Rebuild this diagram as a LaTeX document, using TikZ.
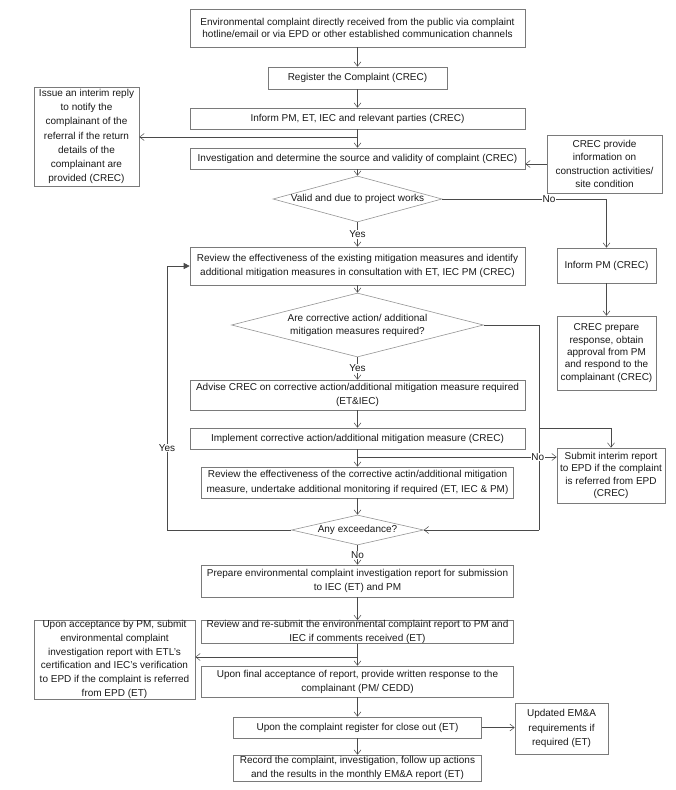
\documentclass[tikz,border=0pt]{standalone}
\usepackage{fontspec}
\setmainfont{Liberation Sans}
\usetikzlibrary{arrows.meta,shapes.geometric}
\definecolor{boxline}{HTML}{7A7A7A}
\definecolor{conline}{HTML}{4A4A4A}
\definecolor{dialine}{HTML}{959595}
\definecolor{txt}{HTML}{1A1A1A}
\tikzset{
  every node/.style={font=\fontsize{10}{14}\selectfont, text=txt},
  ls/.style={font=\fontsize{10}{#1}\selectfont},
  box/.style={draw=boxline, line width=0.6pt, rectangle, inner sep=0pt, align=center},
  dia/.style={draw=dialine, line width=0.6pt, diamond, inner sep=0pt, shape aspect=1},
  con/.style={draw=conline, line width=0.6pt},
  arr/.style={con, -{Straight Barb[length=4.5pt,width=7pt,line width=0.5pt]}},
  farr/.style={con, -{Triangle[length=6pt,width=6pt]}},
  lab/.style={fill=white, inner sep=0.6pt}
}
\begin{document}
\begin{tikzpicture}[x=1pt,y=-1pt]
\useasboundingbox[fill=white] (0,0) rectangle (676,790);
% main column
\node[box, ls=12, minimum width=335, minimum height=38] (b1) at (357.5,28)
  {Environmental complaint directly received from the public via complaint\\hotline/email or via EPD or other established communication channels};
\node[box, minimum width=179, minimum height=22] (b2) at (357.5,78) {Register the Complaint (CREC)};
\node[box, minimum width=335, minimum height=21] (b3) at (357.5,118.5) {Inform PM, ET, IEC and relevant parties (CREC)};
\node[box, minimum width=335, minimum height=21] (b4) at (357.5,158.5) {Investigation and determine the source and validity of complaint (CREC)};
\node[dia, minimum width=169, minimum height=46] (d1) at (357.5,199) {};
\node (d1t) at (357.5,199) {Valid and due to project works};
\node[box, ls=14.5, minimum width=335, minimum height=38] (b5) at (357.5,266)
  {Review the effectiveness of the existing mitigation measures and identify\\additional mitigation measures in consultation with ET, IEC PM (CREC)};
\node[dia, minimum width=252, minimum height=64] (d2) at (357.5,325) {};
\node[align=center, ls=13] (d2t) at (357.5,325) {Are corrective action/ additional\\mitigation measures required?};
\node[box, ls=13.3, minimum width=335, minimum height=30] (b6) at (357.5,395)
  {Advise CREC on corrective action/additional mitigation measure required\\(ET\&IEC)};
\node[box, minimum width=335, minimum height=21] (b7) at (357.5,438.5) {Implement corrective action/additional mitigation measure (CREC)};
\node[box, ls=14.5, minimum width=312, minimum height=31] (b8) at (357.5,482.5)
  {Review the effectiveness of the corrective actin/additional mitigation\\measure, undertake additional monitoring if required (ET, IEC \& PM)};
\node[dia, minimum width=132, minimum height=30] (d3) at (357.5,530) {};
\node (d3t) at (357.5,530) {Any exceedance?};
\node[box, ls=14.5, minimum width=312, minimum height=32] (b9) at (357.5,581)
  {Prepare environmental complaint investigation report for submission\\to IEC (ET) and PM};
\node[box, minimum width=312, minimum height=23] (b10) at (357.5,632)
  {Review and re-submit the environmental complaint report to PM and\\IEC if comments received (ET)};
\node[box, minimum width=312, minimum height=31] (b11) at (357.5,681.5)
  {Upon final acceptance of report, provide written response to the\\complainant (PM/ CEDD)};
\node[box, minimum width=248, minimum height=21] (b12) at (357.5,727.5) {Upon the complaint register for close out (ET)};
\node[box, minimum width=248, minimum height=26] (b13) at (357.5,768)
  {Record the complaint, investigation, follow up actions\\and the results in the monthly EM\&A report (ET)};
% side boxes
\node[box, ls=14.2, minimum width=105, minimum height=99] (l1) at (86.5,136.5)
  {Issue an interim reply\\to notify the\\complainant of the\\referral if the return\\details of the\\complainant are\\provided (CREC)};
\node[box, ls=13.5, minimum width=115, minimum height=58] (r1) at (604.5,164)
  {CREC provide\\information on\\construction activities/\\site condition};
\node[box, minimum width=99, minimum height=35] (pm) at (606.5,265.5) {Inform PM (CREC)};
\node[box, ls=12.3, minimum width=99, minimum height=74] (cp) at (606.5,353)
  {CREC prepare\\response, obtain\\approval from PM\\and respond to the\\complainant (CREC)};
\node[box, ls=12.2, minimum width=108, minimum height=55] (sb) at (611,475.5)
  {Submit interim report\\to EPD if the complaint\\is referred from EPD\\(CREC)};
\node[box, ls=13.7, minimum width=161, minimum height=79] (l2) at (114.5,659.5)
  {Upon acceptance by PM, submit\\environmental complaint\\investigation report with ETL’s\\certification and IEC’s verification\\to EPD if the complaint is referred\\from EPD (ET)};
\node[box, ls=14.5, minimum width=93, minimum height=51] (up) at (561.5,728.5)
  {Updated EM\&A\\requirements if\\required (ET)};
% coordinates
\coordinate (j1) at (357.5,137);
\coordinate (fb) at (167,266);
\coordinate (c2) at (539,325);
\coordinate (bb) at (539,428);
\coordinate (j3) at (357.5,457);
\coordinate (j4) at (357.5,657);
% connectors main
\draw[arr] (b1) -- (b2);
\draw[arr] (b2) -- (b3);
\draw[arr] (b3) -- (b4);
\draw[arr] (b4) -- (d1);
\draw[arr] (d1) -- node[lab]{Yes} (b5);
\draw[arr] (b5) -- (d2);
\draw[arr] (d2) -- node[lab]{Yes} (b6);
\draw[arr] (b6) -- (b7);
\draw[arr] (b7) -- (b8);
\draw[arr] (b8) -- (d3);
\draw[arr] (d3) -- node[lab]{No} (b9);
\draw[arr] (b9) -- (b10);
\draw[arr] (b10) -- (b11);
\draw[arr] (b11) -- (b12);
\draw[arr] (b12) -- (b13);
% side connectors
\draw[arr] (j1) -- (j1 -| l1.east);
\draw[arr] (r1.west) -- (r1.west -| b4.east);
\draw[arr] (d1.east) -- node[lab, pos=0.65]{No} (d1.east -| pm.north) -- (pm.north);
\draw[arr] (pm) -- (cp);
\draw[con] (d2.east) -- (c2) -- (c2 |- d3.east);
\draw[arr] (c2 |- d3.east) -- (d3.east);
\draw[arr] (bb) -- (bb -| sb.north) -- (sb.north);
\draw[arr] (j3) -- node[lab, pos=0.905]{No} (j3 -| sb.west);
\draw[con] (d3.west) -- (d3.west -| fb) -- node[lab, pos=0.31]{Yes} (fb);
\draw[farr] (fb) -- (b5.west);
\draw[arr] (j4) -- (j4 -| l2.east);
\draw[arr] (b12.east) -- (b12.east -| up.west);
\end{tikzpicture}
\end{document}
